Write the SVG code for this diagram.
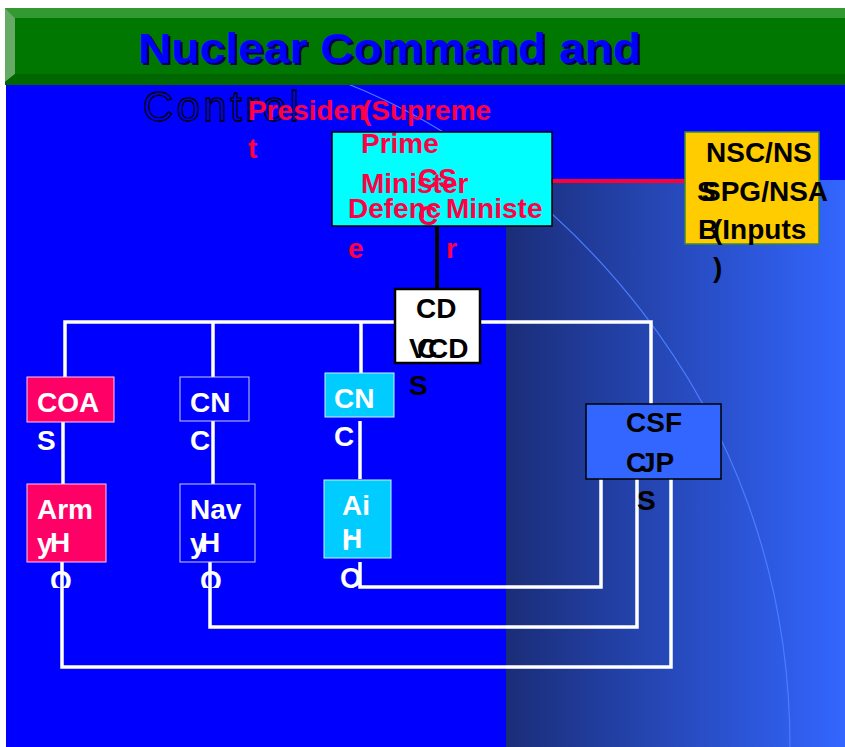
<svg xmlns="http://www.w3.org/2000/svg" width="845" height="747" viewBox="0 0 845 747">
<defs>
<linearGradient id="grad" x1="0" y1="0" x2="1" y2="0">
<stop offset="0" stop-color="#1a2d78"/>
<stop offset="1" stop-color="#3366ff"/>
</linearGradient>
<clipPath id="clipQ"><rect x="0" y="0" width="845" height="588"/></clipPath>
</defs>
<style>
.t{font-family:"Liberation Sans",Arial,sans-serif;font-weight:bold;font-size:28px}
.red{fill:#ff0044}
.wh{fill:#ffffff}
.bk{fill:#000000}
.wire{fill:none;stroke:#ffffff;stroke-width:3.5}
</style>
<rect x="0" y="0" width="845" height="747" fill="#ffffff"/>
<rect x="6" y="84" width="839" height="663" fill="#0000ff"/>
<rect x="506" y="180" width="339" height="567" fill="url(#grad)"/>
<path d="M348,84 C540,160 790,390 790,747" fill="none" stroke="#4a7dff" stroke-width="1.2"/>
<g id="banner">
<rect x="5" y="8" width="840" height="77" fill="#007700"/>
<polygon points="5,8 845,8 845,18 15,18" fill="#339933"/>
<polygon points="5,8 15,18 15,74 5,82" fill="#66aa66"/>
<polygon points="5,82 15,74 845,74 845,85 5,85" fill="#006600"/>
<text x="140" y="65" class="t" style="font-size:43px" fill="#000055" textLength="503" lengthAdjust="spacingAndGlyphs">Nuclear Command and</text>
<text x="138" y="63" class="t" style="font-size:43px" fill="#0000ff" textLength="503" lengthAdjust="spacingAndGlyphs">Nuclear Command and</text>
<text x="143" y="121" font-family="Liberation Sans, Arial, sans-serif" font-size="42" fill="#0000ff" stroke="#000000" stroke-width="1.3" textLength="156" lengthAdjust="spacing">Control</text>
</g>
<g id="connectors">
<path class="wire" d="M65,377 V322 H651 V404"/>
<path class="wire" d="M213,377 V322"/>
<path class="wire" d="M361,373 V322"/>
<path class="wire" d="M63,422 V484"/>
<path class="wire" d="M213,421 V484"/>
<path class="wire" d="M360,421 V479"/>
<path class="wire" d="M62,562 V667 H671 V479"/>
<path class="wire" d="M210,562 V627 H637 V479"/>
<path class="wire" d="M360,562 V587 H601 V479"/>
<line x1="437" y1="226" x2="437" y2="289" stroke="#000000" stroke-width="4"/>
<line x1="552" y1="181" x2="685" y2="181" stroke="#ff0033" stroke-width="4"/>
</g>
<g id="president">
<text class="t red" x="248" y="120">Presiden</text>
<text class="t red" x="248" y="158">t</text>
<text class="t red" x="362" y="120">(Supreme</text>
</g>
<g id="ccs">
<rect x="332" y="132" width="220" height="94" fill="#00ffff" stroke="#000000" stroke-width="1.5"/>
<text class="t red" x="361" y="153">Prime</text>
<text class="t red" x="361" y="193">Minister</text>
<text class="t red" x="418" y="188">CS</text>
<text class="t red" x="418" y="225">C</text>
<text class="t red" x="348" y="218">Defenc</text>
<text class="t red" x="446" y="218">Ministe</text>
<text class="t red" x="348" y="258">e</text>
<text class="t red" x="446" y="258">r</text>
</g>
<g id="nsc">
<rect x="685" y="132" width="134" height="112" fill="#ffcc00" stroke="#3a8a3a" stroke-width="1.5"/>
<text class="t bk" x="706" y="162">NSC/NS</text>
<text class="t bk" x="697" y="201">S</text>
<text class="t bk" x="702" y="201">SPG/NSA</text>
<text class="t bk" x="698" y="239">B</text>
<text class="t bk" x="713" y="239">(Inputs</text>
<text class="t bk" x="713" y="277">)</text>
</g>
<g id="cds">
<rect x="395" y="289" width="85" height="74" fill="#ffffff" stroke="#000000" stroke-width="2.5"/>
<text class="t bk" x="416" y="318">CD</text>
<text class="t bk" x="409" y="358">V</text>
<text class="t bk" x="417" y="358">C</text>
<text class="t bk" x="428" y="358">CD</text>
<text class="t bk" x="409" y="395">S</text>
</g>
<g id="coas">
<rect x="27" y="377" width="87" height="45" fill="#ff0066" stroke="#ffccee" stroke-width="1"/>
<text class="t wh" x="37" y="412">COA</text>
<text class="t wh" x="37" y="450">S</text>
</g>
<g id="armyhq">
<rect x="27" y="484" width="79" height="78" fill="#ff0066" stroke="#ffccee" stroke-width="1"/>
<text class="t wh" x="37" y="519">Arm</text>
<text class="t wh" x="37" y="553">y</text>
<text class="t wh" x="50" y="552">H</text>
<text class="t wh" x="50" y="590" clip-path="url(#clipQ)">Q</text>
</g>
<g id="cnc-navy">
<rect x="180" y="377" width="69" height="44" fill="#0000ff" stroke="#ccccff" stroke-width="1"/>
<text class="t wh" x="190" y="412">CN</text>
<text class="t wh" x="190" y="450">C</text>
</g>
<g id="navyhq">
<rect x="180" y="484" width="75" height="78" fill="#0000ff" stroke="#ccccff" stroke-width="1"/>
<text class="t wh" x="190" y="519">Nav</text>
<text class="t wh" x="190" y="553">y</text>
<text class="t wh" x="200" y="552">H</text>
<text class="t wh" x="200" y="590" clip-path="url(#clipQ)">Q</text>
</g>
<g id="cnc-air">
<rect x="325" y="373" width="69" height="44" fill="#00ccff" stroke="#ccf4ff" stroke-width="1"/>
<text class="t wh" x="334" y="408">CN</text>
<text class="t wh" x="334" y="446">C</text>
</g>
<g id="airhq">
<rect x="324" y="480" width="67" height="78" fill="#00ccff" stroke="#ccf4ff" stroke-width="1"/>
<text class="t wh" x="342" y="515">Ai</text>
<text class="t wh" x="342" y="550">r</text>
<text class="t wh" x="342" y="548">H</text>
<text class="t wh" x="340" y="587" clip-path="url(#clipQ)">Q</text>
</g>
<g id="csfcjps">
<rect x="586" y="404" width="135" height="75" fill="#3366ff" stroke="#000000" stroke-width="1.5"/>
<text class="t bk" x="626" y="432">CSF</text>
<text class="t bk" x="626" y="472">C</text>
<text class="t bk" x="640" y="472">JP</text>
<text class="t bk" x="637" y="510">S</text>
</g>
</svg>
